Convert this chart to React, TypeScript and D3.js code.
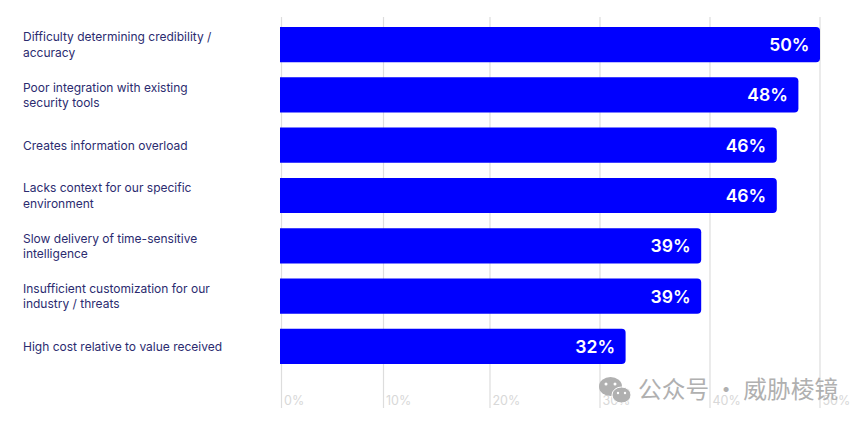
import { useRef, useEffect } from 'react';
import * as d3 from 'd3';

const categories = [
  ['Difficulty determining credibility /', 'accuracy'],
  ['Poor integration with existing', 'security tools'],
  ['Creates information overload'],
  ['Lacks context for our specific', 'environment'],
  ['Slow delivery of time-sensitive', 'intelligence'],
  ['Insufficient customization for our', 'industry / threats'],
  ['High cost relative to value received'],
];
const values = [50, 48, 46, 46, 39, 39, 32];
const tickValues = [0, 10, 20, 30, 40, 50];
// the gridlines in the picture are not evenly spaced and do not line up with the bars
const tickPixels = [281.5, 383.5, 490, 600, 710, 820];

const width = 865;
const height = 424;

export default function App() {
  const svgRef = useRef<SVGSVGElement | null>(null);

  useEffect(() => {
    if (!svgRef.current) return;

    const svg = d3.select(svgRef.current);

    // Clear previous content
    svg.selectAll('*').remove();

    const x = d3.scaleLinear().domain([0, 50]).range([280, 820]);
    const gridX = d3.scaleLinear().domain(tickValues).range(tickPixels);
    const y = d3
      .scaleBand<number>()
      .domain(d3.range(values.length))
      .range([27, 364])
      .paddingInner(0.3)
      .paddingOuter(0);

    const grid = svg.append('g');
    grid
      .selectAll('line')
      .data(tickValues)
      .join('line')
      .attr('x1', (d) => gridX(d))
      .attr('x2', (d) => gridX(d))
      .attr('y1', 17)
      .attr('y2', 408)
      .attr('stroke', '#dddddd')
      .attr('stroke-width', 1.2);
    grid
      .selectAll('text')
      .data(tickValues)
      .join('text')
      .attr('x', (d) => gridX(d) + 2.5)
      .attr('y', 405)
      .attr('font-size', 12.5)
      .attr('fill', '#d8d8d8')
      .text((d) => `${d}%`);

    svg
      .append('g')
      .selectAll('path')
      .data(values)
      .join('path')
      .attr('fill', '#0000ff')
      .attr('d', (d, i) => {
        const x0 = x(0);
        const x1 = x(d);
        const y0 = y(i)!;
        const y1 = y0 + y.bandwidth();
        const r = 4;
        return `M${x0},${y0}H${x1 - r}Q${x1},${y0} ${x1},${y0 + r}V${y1 - r}Q${x1},${y1} ${x1 - r},${y1}H${x0}Z`;
      });

    svg
      .append('g')
      .selectAll('text')
      .data(values)
      .join('text')
      .attr('x', (d) => x(d) - 10.5)
      .attr('y', (d, i) => y(i)! + y.bandwidth() / 2 + 6.5)
      .attr('text-anchor', 'end')
      .attr('font-size', 17.6)
      .attr('font-weight', 600)
      .attr('fill', '#fff')
      .text((d) => `${d}%`);

    const labels = svg
      .append('g')
      .selectAll('text')
      .data(categories)
      .join('text')
      .attr('font-size', 12)
      .attr('fill', '#2b2b6f');
    labels
      .selectAll('tspan')
      .data((d, i) => d.map((line, j) => ({ line, j, i, n: d.length })))
      .join('tspan')
      .attr('x', 23)
      .attr('y', (d) => y(d.i)! + y.bandwidth() / 2 + 4.5 + (d.j - (d.n - 1) / 2) * 15.5)
      .text((d) => d.line);

    // watermark
    const mark = svg.append('g').attr('fill', '#b0b0b0');
    mark.append('ellipse').attr('cx', 610.5).attr('cy', 386.5).attr('rx', 11.5).attr('ry', 9.5);
    mark
      .append('ellipse')
      .attr('cx', 621.5)
      .attr('cy', 395)
      .attr('rx', 9.5)
      .attr('ry', 8)
      .attr('stroke', '#fff')
      .attr('stroke-width', 1);
    const eyes = [
      [606, 384, 1.5],
      [615, 384, 1.5],
      [618, 393, 1.2],
      [625, 393, 1.2],
    ];
    mark
      .selectAll('circle')
      .data(eyes)
      .join('circle')
      .attr('cx', (d) => d[0])
      .attr('cy', (d) => d[1])
      .attr('r', (d) => d[2])
      .attr('fill', '#fff');
    mark
      .append('text')
      .attr('x', 638)
      .attr('y', 398)
      .attr('font-size', 23.7)
      .attr('font-family', '"Noto Sans CJK SC"')
      .text('公众号 · 威胁棱镜');
  }, []);

  return (
    <svg
      ref={svgRef}
      width={width}
      height={height}
      style={{ position: 'absolute', left: 0, top: 0, fontFamily: 'Inter, sans-serif' }}
    />
  );
}
